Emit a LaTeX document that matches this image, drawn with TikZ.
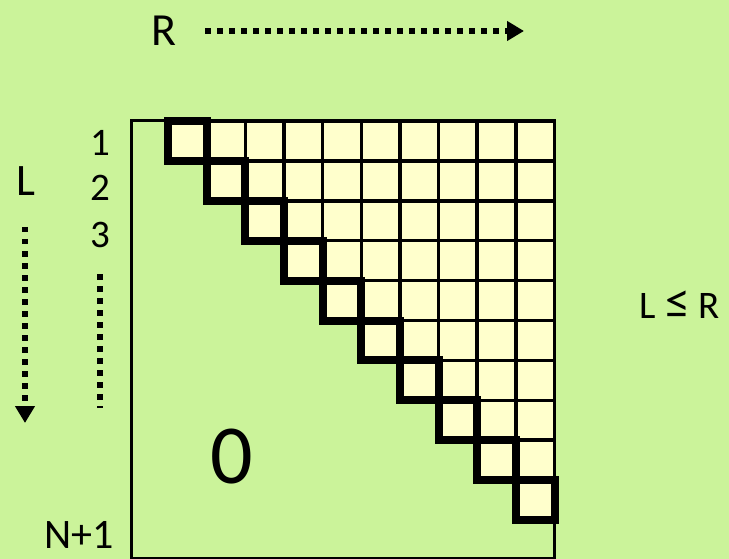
\documentclass[tikz,border=0pt]{standalone}
\usepackage{fontspec}
\setmainfont{Carlito}
\usetikzlibrary{arrows.meta}
\definecolor{bggreen}{RGB}{203,243,154}
\definecolor{cellyellow}{RGB}{255,255,204}
\tikzset{
  cell/.style={draw=black,fill=cellyellow,line width=3.5pt},
  diagcell/.style={draw=black,line width=8pt},
  dotline/.style={line width=5.5pt,dash pattern=on 5.5pt off 6.5pt},
  lbl/.style={inner sep=0pt,anchor=center}
}
\newcommand{\cw}{38.65}
\newcommand{\rh}{39.9}
\begin{document}
\begin{tikzpicture}[x=1pt,y=-1pt]
  \fill[bggreen] (0,0) rectangle (729,559);
  \useasboundingbox (0,0) rectangle (729,559);
  % upper triangle of cells
  \foreach \i in {0,...,9}{
    \foreach \j in {\i,...,9}{
      \draw[cell] ({168+\j*\cw},{121+\i*\rh}) rectangle ({168+(\j+1)*\cw},{121+(\i+1)*\rh});
    }
  }
  % diagonal
  \foreach \i in {0,...,9}{
    \draw[diagcell] ({168+\i*\cw},{121+\i*\rh}) rectangle ({168+(\i+1)*\cw},{121+(\i+1)*\rh});
  }
  % outer frame
  \draw[line width=3pt] (131.5,558) -- (131.5,121) -- (554.5,121) -- (554.5,558) -- cycle;
  % labels
  \node[lbl,font=\fontsize{46}{46}\selectfont] (rlbl) at (164,31) {R};
  \coordinate (rstart) at (205,31);
  \coordinate (rend) at (524,31);
  \draw[dotline,-{Triangle[length=17pt,width=19pt]}] (rstart) -- (rend);
  \node[lbl,font=\fontsize{45}{45}\selectfont] (llbl) at (26,181) {L};
  \coordinate (lstart) at (25,227);
  \coordinate (lend) at (25,423);
  \draw[dotline,-{Triangle[length=17pt,width=19pt]}] (lstart) -- (lend);
  \node[lbl,font=\fontsize{39}{39}\selectfont] (one) at (100,143) {1};
  \node[lbl,font=\fontsize{39}{39}\selectfont] (two) at (100,188) {2};
  \node[lbl,font=\fontsize{39}{39}\selectfont] (three) at (100,235) {3};
  \coordinate (dstart) at (100,274);
  \coordinate (dend) at (100,408);
  \draw[dotline] (dstart) -- (dend);
  \node[lbl,font=\fontsize{39}{39}\selectfont] (cond) at (680,305) {L {\fontsize{50}{50}\selectfont ≤} R};
  \node[lbl,font=\fontsize{84}{84}\selectfont] (zero) at (232,457) {0};
  \node[lbl,font=\fontsize{42}{42}\selectfont] (nlast) at (79,535) {N+1};
\end{tikzpicture}
\end{document}
